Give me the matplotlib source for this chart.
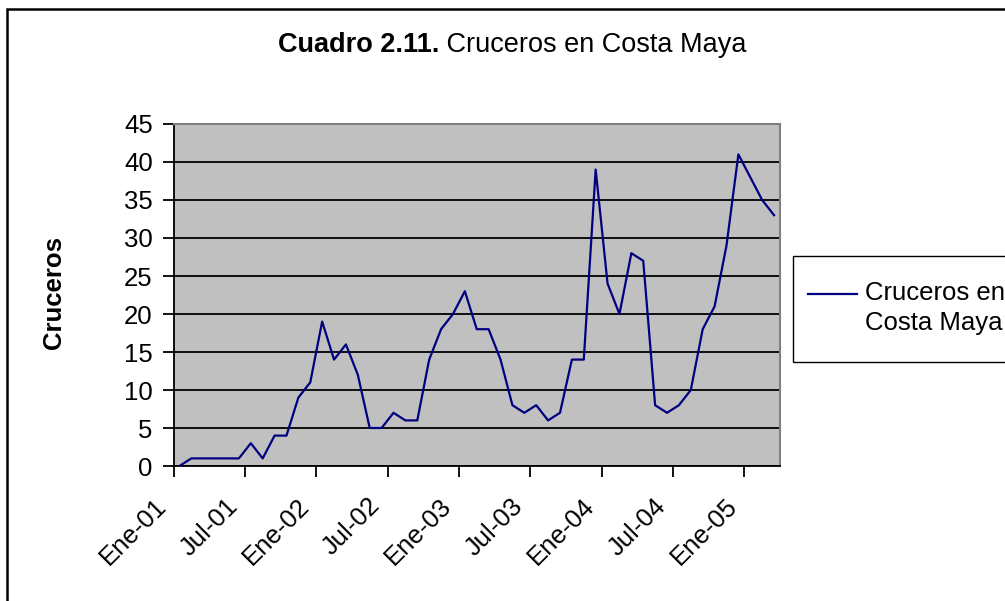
import numpy as np
import matplotlib
matplotlib.use('Agg')
import matplotlib.pyplot as plt
from matplotlib.patches import Rectangle
from matplotlib.transforms import ScaledTranslation

# cruceros mensuales, Ene-01 .. Mar-05
cruceros = [0, 1, 1, 1, 1, 1, 3, 1, 4, 4, 9, 11,
            19, 14, 16, 12, 5, 5, 7, 6, 6, 14, 18, 20,
            23, 18, 18, 14, 8, 7, 8, 6, 7, 14, 14, 39,
            24, 20, 28, 27, 8, 7, 8, 10, 18, 21, 29, 41,
            38, 35, 33]
etiquetas = ['Ene-01', 'Jul-01', 'Ene-02', 'Jul-02', 'Ene-03',
             'Jul-03', 'Ene-04', 'Jul-04', 'Ene-05']
yticks = [0, 5, 10, 15, 20, 25, 30, 35, 40, 45]

plt.rcParams['font.family'] = ['Liberation Sans', 'DejaVu Sans']
W, H = 1005, 601
fs = 18.5

fig = plt.figure(figsize=(W / 100, H / 100), dpi=100)
fig.patch.set_facecolor('white')

# marco exterior del grafico
fig.add_artist(Rectangle((7 / W, -0.05), 1.2, 1 - 9 / H + 0.05, transform=fig.transFigure,
                         fill=False, edgecolor='black', lw=1.8))

ax = fig.add_axes([173.5 / W, 1 - 466 / H, 606.5 / W, 342 / H])
ax.set_facecolor('#C0C0C0')

x = np.arange(len(cruceros))
linea, = ax.plot(x, cruceros, color='#000080', lw=1.6, label='Cruceros en\nCosta Maya', zorder=3)

ax.set_xlim(-0.5, len(cruceros) - 0.5)
ax.set_ylim(0, 45)
ax.set_yticks(yticks)
ax.yaxis.grid(True, color='black', lw=1.3)
ax.set_axisbelow(True)

ax.set_xticks(np.arange(0, 49, 6))
ax.set_xticklabels(etiquetas, rotation=45, ha='right', va='center', rotation_mode='anchor')
ax.set_xticks(np.arange(-0.5, 48, 6), minor=True)
ax.tick_params(axis='x', which='major', length=0, pad=26, labelsize=fs)
ax.tick_params(axis='x', which='minor', length=8, width=1.3, direction='out')
ax.tick_params(axis='y', length=8, width=1.3, direction='out', pad=7, labelsize=fs)
off = ScaledTranslation(-17 / 100, 0, fig.dpi_scale_trans)
for lbl in ax.get_xticklabels():
    lbl.set_transform(lbl.get_transform() + off)

for s in ['top', 'right']:
    ax.spines[s].set_color('#808080')
    ax.spines[s].set_linewidth(1.5)
for s in ['left', 'bottom']:
    ax.spines[s].set_color('black')
    ax.spines[s].set_linewidth(1.3)

ax.set_ylabel('Cruceros', fontsize=fs, fontweight='bold')
ax.yaxis.set_label_coords((66 - 173.5) / 606.5, (466 - 293) / 342)

# leyenda: recuadro aparte, linea a la altura de la primera fila
fig.add_artist(Rectangle((793 / W, 1 - 362 / H), 0.3, 106 / H, transform=fig.transFigure,
                         facecolor='white', edgecolor='black', lw=1.0, zorder=4))
leg = fig.legend(handles=[linea], loc='center left', bbox_to_anchor=(808 / W, 1 - 308 / H),
                 bbox_transform=fig.transFigure, borderaxespad=0, borderpad=0, fontsize=fs,
                 frameon=False, handlelength=1.9, handletextpad=0.3)
leg.set_zorder(5)
for t in leg.get_texts():
    t.set_linespacing(1.33)
h = leg.legend_handles[0]
h.set_ydata(np.asarray(h.get_ydata()) + 10.8)

# titulo: parte en negrita + parte normal, centrado
yt = 1 - 45 / H
t1 = fig.text(0, yt, 'Cuadro 2.11.', fontsize=19.5, fontweight='bold', va='center', ha='left')
t2 = fig.text(0, yt, ' Cruceros en Costa Maya', fontsize=19.5, va='center', ha='left')
fig.canvas.draw()
r = fig.canvas.get_renderer()
w1 = t1.get_window_extent(r).width
w2 = t2.get_window_extent(r).width
x0 = 512 - (w1 + w2) / 2
t1.set_x(x0 / W)
t2.set_x((x0 + w1) / W)

fig.savefig('out.png', dpi=100)
